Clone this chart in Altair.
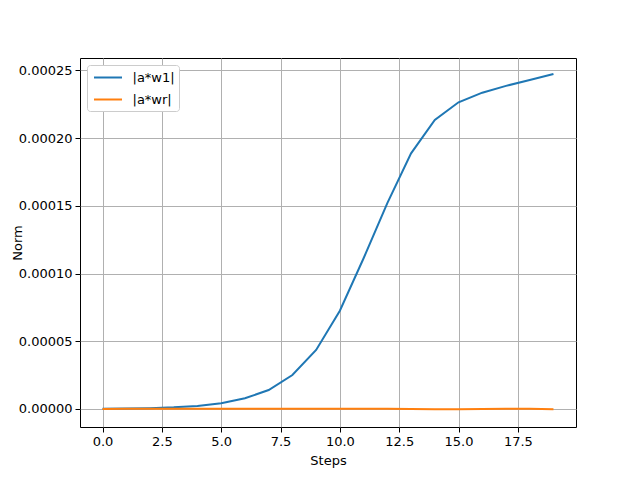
import altair as alt
import pandas as pd

steps = list(range(20))
w1 = [0.0000001, 0.0000003, 0.0000006, 0.0000012, 0.0000022, 0.0000042, 0.0000079,
      0.0000140, 0.0000251, 0.0000436, 0.0000726, 0.0001113, 0.0001520, 0.0001888,
      0.0002134, 0.0002265, 0.0002336, 0.0002386, 0.0002430, 0.0002474]
wr = [0.0, 0.0000001, 0.0000001, 0.0000001, 0.0000002, 0.0000002, 0.0000002,
      0.0000002, 0.0000002, 0.0000002, 0.0000002, 0.0000001, 0.0000002, 0.0,
      -0.0000001, -0.0000001, 0.0, 0.0000001, 0.0000002, -0.0000001]
series_names = ["|a*w1|", "|a*wr|"]
colors = ["#1f77b4", "#ff7f0e"]
x_ticks = [0, 2.5, 5, 7.5, 10, 12.5, 15, 17.5]
y_ticks = [0, 0.00005, 0.0001, 0.00015, 0.0002, 0.00025]

df = pd.concat([
    pd.DataFrame({"step": steps, "value": w1, "series": series_names[0]}),
    pd.DataFrame({"step": steps, "value": wr, "series": series_names[1]}),
])

font = "DejaVu Sans"
axis_common = dict(
    grid=True, gridColor="#b0b0b0", gridWidth=1,
    domain=False, tickColor="black", tickSize=5, tickWidth=1,
    labelFont=font, labelFontSize=13, labelColor="black",
    titleFont=font, titleFontSize=13, titleColor="black", titleFontWeight="normal",
    labelPadding=3,
)

chart = alt.Chart(df).mark_line(strokeWidth=2, clip=True).encode(
    x=alt.X("step:Q",
            scale=alt.Scale(domain=[-0.95, 19.95], nice=False, zero=False),
            axis=alt.Axis(values=x_ticks, format=".1f", title="Steps", titlePadding=6, **axis_common)),
    y=alt.Y("value:Q",
            scale=alt.Scale(domain=[-0.0000133, 0.0002592], nice=False, zero=False),
            axis=alt.Axis(values=y_ticks, format=".5f", title="Norm",
                          titleX=-56, titleBaseline="bottom", **axis_common)),
    color=alt.Color("series:N",
                    scale=alt.Scale(domain=series_names, range=colors),
                    legend=alt.Legend(title=None, orient="top-left", offset=7,
                                      symbolType="M-1.87,0H1.87", symbolSize=225,
                                      symbolStrokeWidth=2, symbolFillColor="transparent",
                                      symbolOffset=8.5,
                                      labelFont=font, labelFontSize=13, labelColor="black",
                                      fillColor="white", strokeColor="#cccccc", cornerRadius=3,
                                      padding=4, rowPadding=6, labelOffset=16)),
).properties(
    width=496, height=369,
    padding={"left": 72, "top": 50, "right": 56, "bottom": 45},
    autosize=alt.AutoSizeParams(type="none"),
).configure_view(stroke="black", strokeWidth=1)

chart.save("out.html", embed_options={"renderer": "svg", "actions": False})
